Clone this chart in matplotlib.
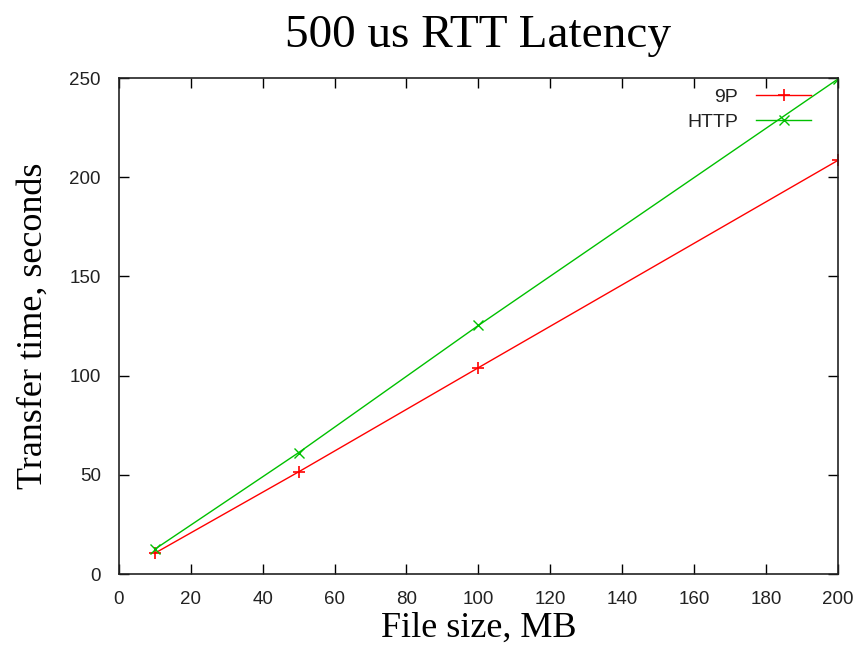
import matplotlib
matplotlib.use("Agg")
import matplotlib.pyplot as plt

# file sizes (MB) and transfer times (s)
sizes = [10, 50, 100, 200]
t_9p = [10.5, 51.5, 104.0, 208.5]
t_http = [12.5, 61.2, 125.3, 249.5]

fig = plt.figure(figsize=(8.55, 6.45), dpi=100)
ax = fig.add_axes([0.139, 0.110, 0.841, 0.769])

ax.plot(sizes, t_9p, color="#ff0000", lw=1, marker="+", ms=8, mew=1.2, label="9P")
ax.plot(sizes, t_http, color="#00c000", lw=1, marker="x", ms=7, mew=1.0, label="HTTP")

ax.set_xlim(0, 200)
ax.set_ylim(0, 250)
ax.set_xticks(range(0, 201, 20))
ax.set_yticks(range(0, 251, 50))
ax.tick_params(direction="in", top=True, right=True, length=7, width=1,
               labelsize=13.5)
ax.tick_params(axis="x", pad=12)
ax.tick_params(axis="y", pad=13)
for lbl in ax.get_xticklabels() + ax.get_yticklabels():
    lbl.set_family("Liberation Sans")
    lbl.set_color("#222222")
for s in ax.spines.values():
    s.set_linewidth(1.2)
    s.set_color("#222222")

ax.set_title("500 us RTT Latency", family="Liberation Serif", fontsize=34, pad=22)
ax.set_xlabel("File size, MB", family="Liberation Serif", fontsize=26, labelpad=3)
ax.set_ylabel("Transfer time, seconds", family="Liberation Serif", fontsize=26, labelpad=14)

leg = ax.legend(loc="upper right", frameon=False, markerfirst=False,
                handlelength=2.83, handletextpad=0.93,
                prop={"family": "Liberation Sans", "size": 14},
                bbox_to_anchor=(0.987, 1.015), labelspacing=0.4)
for t in leg.get_texts():
    t.set_ha("right")
    t.set_color("#222222")

fig.savefig("out.png", dpi=100)
